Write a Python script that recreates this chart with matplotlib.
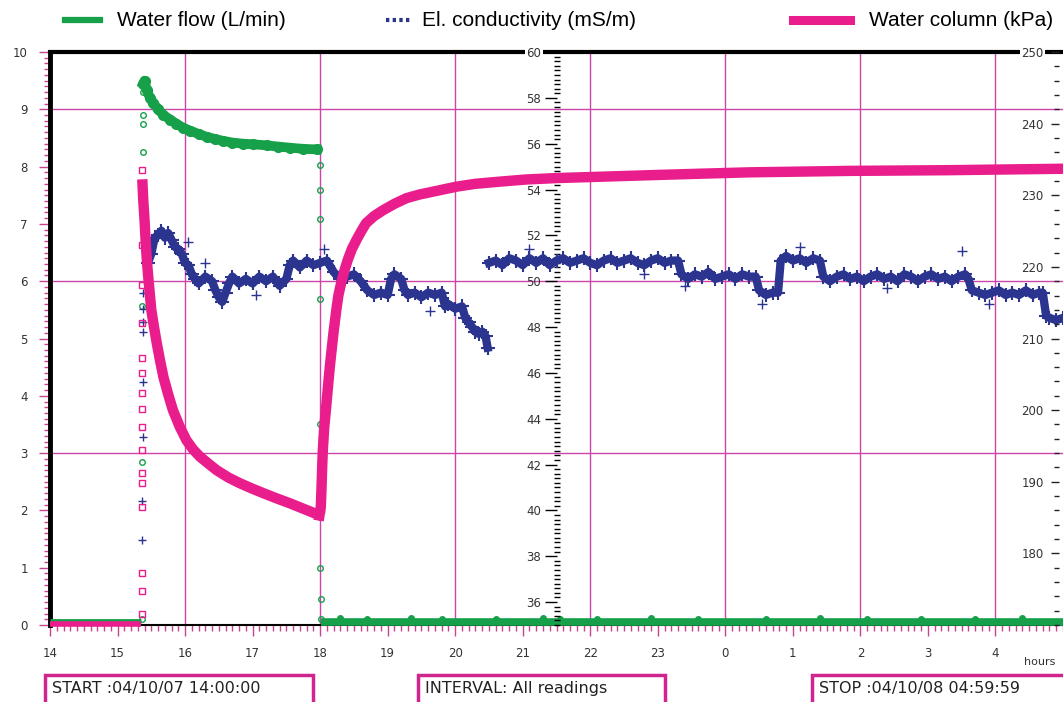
import numpy as np
import matplotlib
matplotlib.use("Agg")
import matplotlib.pyplot as plt
from matplotlib.ticker import MultipleLocator
from matplotlib.lines import Line2D
from matplotlib.patches import Rectangle

nan = np.nan

# --- water flow (L/min), left axis ---
flow_idle_time = [14.0, 14.5, 15.0, 15.35]
flow_idle = [0.07, 0.07, 0.07, 0.07]
flow_rise_time = [15.36, 15.36, 15.36, 15.37, 15.37, 15.37, 15.38]
flow_rise = [0.1, 2.85, 5.57, 8.25, 8.75, 8.9, 9.3]
flow_run_time = [15.38, 15.40, 15.43, 15.48, 15.53, 15.60, 15.68, 15.78, 15.87, 15.97, 16.07,
                 16.2, 16.32, 16.45, 16.56, 16.7, 16.86, 17.0, 17.21, 17.38, 17.55, 17.75, 17.95]
flow_run = [9.45, 9.5, 9.34, 9.2, 9.11, 9.0, 8.9, 8.82, 8.75, 8.68, 8.63,
            8.57, 8.52, 8.48, 8.45, 8.42, 8.4, 8.39, 8.37, 8.35, 8.33, 8.31, 8.3]
flow_stop_time = [18.0, 18.0, 18.0, 18.0, 18.0, 18.0, 18.01, 18.01]
flow_stop = [8.03, 7.6, 7.08, 5.69, 3.5, 1.0, 0.45, 0.1]
flow_rest_time = [18.02, 18.5, 19.0, 19.5, 20.0, 20.5, 21.0, 21.5, 22.0, 22.5, 23.0, 23.5, 24.0,
                  24.5, 25.0, 25.5, 26.0, 26.5, 27.0, 27.5, 28.0, 28.5, 29.0]
flow_rest = [0.06] * 23
flow_blip_time = [18.3, 18.7, 19.35, 19.8, 20.6, 21.3, 21.55, 22.1, 22.9, 23.6, 24.6, 25.4,
                  26.1, 26.9, 27.7, 28.4]
flow_blip = [0.12, 0.1, 0.12, 0.11, 0.1, 0.12, 0.11, 0.1, 0.12, 0.1, 0.11, 0.12, 0.1, 0.11, 0.1, 0.12]

# --- electrical conductivity (mS/m), middle axis ---
ec_rise_time = [15.36, 15.36, 15.37, 15.37, 15.37, 15.37, 15.38, 15.38]
ec_rise = [38.7, 40.4, 43.2, 45.6, 47.8, 48.2, 48.8, 49.5]
ec_time = [15.45, 15.5, 15.55, 15.6, 15.65, 15.7, 15.75, 15.8, 15.85, 15.9, 15.95, 16.0, 16.05,
           16.1, 16.15, 16.2, 16.3, 16.4, 16.45, 16.5, 16.55, 16.6, 16.65, 16.7, 16.8, 16.9,
           17.0, 17.1, 17.2, 17.3, 17.4, 17.5, 17.55, 17.6, 17.7, 17.8, 17.9, 18.0, 18.1,
           18.2, 18.3, 18.4, 18.5, 18.6, 18.7, 18.8, 18.9, 19.0, 19.05, 19.1, 19.2, 19.25,
           19.3, 19.4, 19.5, 19.6, 19.7, 19.8, 19.85, 19.9, 20.0, 20.1, 20.15, 20.2, 20.25,
           20.3, 20.35, 20.4, 20.45, 20.48, 20.49,
           20.5, 20.6, 20.7, 20.8, 20.9, 21.0, 21.1, 21.2, 21.3, 21.4, 21.5, 21.6, 21.7, 21.8,
           21.9, 22.0, 22.1, 22.2, 22.3, 22.4, 22.5, 22.6, 22.7, 22.8, 22.9, 23.0, 23.1, 23.2,
           23.3, 23.35, 23.45, 23.55, 23.65, 23.75, 23.85, 23.95, 24.05, 24.15, 24.25, 24.35,
           24.45, 24.5, 24.6, 24.7, 24.78, 24.82, 24.9, 25.0, 25.1, 25.2, 25.3, 25.4, 25.45,
           25.55, 25.65, 25.75, 25.85, 25.95, 26.05, 26.15, 26.25, 26.35, 26.45, 26.55, 26.65,
           26.75, 26.85, 26.95, 27.05, 27.15, 27.25, 27.35, 27.45, 27.55, 27.6, 27.65, 27.75,
           27.85, 27.95, 28.05, 28.15, 28.25, 28.35, 28.45, 28.55, 28.65, 28.7, 28.75, 28.8,
           28.9, 29.0]
ec_value = [50.8, 51.2, 51.9, 52.0, 52.2, 51.9, 52.1, 51.8, 51.5, 51.4, 51.2, 50.8, 50.7,
            50.3, 50.1, 49.9, 50.2, 50.0, 49.6, 49.3, 49.1, 49.5, 49.9, 50.2, 49.9, 50.1,
            49.9, 50.2, 50.0, 50.2, 49.8, 50.1, 50.7, 50.9, 50.6, 50.9, 50.7, 50.8, 50.9,
            50.4, 50.1, 50.2, 50.3, 50.0, 49.6, 49.4, 49.5, 49.4, 50.1, 50.3, 50.1, 49.6,
            49.4, 49.5, 49.3, 49.5, 49.4, 49.5, 48.9, 49.0, 48.8, 48.9, 48.4, 48.2, 48.0,
            47.8, 47.7, 47.8, 47.6, 47.1, nan,
            50.8, 50.9, 50.7, 51.0, 50.9, 50.7, 51.0, 50.8, 51.0, 50.7, 50.9, 51.0, 50.8, 50.9,
            51.0, 50.8, 50.7, 50.9, 51.0, 50.8, 50.9, 51.0, 50.8, 50.7, 50.9, 51.0, 50.8, 50.9,
            50.9, 50.3, 50.1, 50.3, 50.2, 50.4, 50.1, 50.2, 50.3, 50.1, 50.3, 50.2,
            50.2, 49.6, 49.4, 49.5, 49.5, 50.9, 51.1, 50.9, 51.0, 50.8, 51.0, 50.9, 50.2,
            50.0, 50.2, 50.3, 50.1, 50.2, 50.0, 50.2, 50.3, 50.1, 50.2, 50.0, 50.3,
            50.2, 50.0, 50.2, 50.3, 50.1, 50.2, 50.0, 50.2, 50.3, 50.1, 49.6, 49.5,
            49.4, 49.5, 49.6, 49.4, 49.5, 49.4, 49.6, 49.4, 49.5, 49.5, 48.5, 48.4,
            48.3, 48.4]
ec_stray_time = [16.3, 17.05, 18.05, 19.62, 16.05, 21.1, 22.8, 24.55, 25.1, 27.5, 27.9, 23.4, 26.4]
ec_stray = [50.8, 49.4, 51.4, 48.7, 51.7, 51.4, 50.3, 49.0, 51.5, 51.3, 49.0, 49.8, 49.7]

# --- water column (kPa), right axis ---
wc_idle_time = [14.0, 14.5, 15.0, 15.35]
wc_idle = [170.1, 170.1, 170.1, 170.1]
wc_rise_time = [15.36] * 17
wc_rise = [171.5, 174.7, 177.3, 186.5, 189.8, 191.2, 194.4, 197.6, 200.2, 202.4, 205.2,
           207.3, 212.2, 217.5, 223.0, 229.5, 233.5]
wc_run_time = [15.37, 15.38, 15.40, 15.41, 15.43, 15.45, 15.475, 15.50, 15.54, 15.58, 15.63,
               15.68, 15.75, 15.82, 15.92, 16.02, 16.12, 16.22, 16.35, 16.47, 16.64, 16.81,
               16.98, 17.16, 17.35, 17.55, 17.76, 17.97]
wc_run = [231.5, 229.5, 226.5, 224.7, 221.5, 219.1, 216.5, 214.0, 211.6, 209.4, 206.9,
          204.6, 202.2, 200.0, 197.7, 195.8, 194.5, 193.5, 192.5, 191.6, 190.6, 189.8,
          189.1, 188.4, 187.7, 187.0, 186.2, 185.4]
wc_stop_time = [18.02, 18.02, 18.02, 18.03, 18.03, 18.03, 18.04]
wc_stop = [186.0, 188.0, 190.0, 192.0, 194.0, 196.0, 198.0]
wc_rec_time = [17.99, 18.01, 18.02, 18.03, 18.04, 18.06, 18.09, 18.12, 18.145, 18.17, 18.2,
               18.24, 18.27, 18.31, 18.36, 18.41, 18.47, 18.54, 18.61, 18.68, 18.8, 18.93,
               19.1, 19.28, 19.47, 19.67, 20.02, 20.3, 20.66, 21.05, 21.5, 22.2, 22.88, 23.6,
               24.36, 25.1, 25.83, 27.31, 29.0]
wc_rec = [185.3, 186.5, 189.0, 192.0, 194.4, 197.5, 200.5, 203.7, 206.2, 208.4, 211.0,
          214.0, 216.0, 217.7, 219.5, 221.0, 222.5, 223.8, 225.0, 226.1, 227.1, 227.9,
          228.8, 229.6, 230.1, 230.5, 231.2, 231.6, 231.9, 232.2, 232.4, 232.6, 232.8, 233.0,
          233.2, 233.3, 233.4, 233.5, 233.7]

hour_ticks = list(range(14, 29))
hour_labels = ['14', '15', '16', '17', '18', '19', '20', '21', '22', '23', '0', '1', '2', '3', '4']
grid_hours = [16, 18, 20, 22, 24, 26, 28]
grid_flow = [3, 6, 9]

GREEN = '#17a04a'
NAVY = '#2b3590'
PINK = '#e91e8c'
GRIDC = '#cc44a8'
TICKC = '#c8448f'
LABC = '#333333'

W, H = 1063, 702
fig = plt.figure(figsize=(W / 100, H / 100), dpi=100)
ax = fig.add_axes([50 / W, 77 / H, 1013 / W, 573 / H])
ax.set_xlim(14, 29)
ax.set_ylim(0, 10)

for h in grid_hours:
    ax.axvline(h, color=GRIDC, lw=1, zorder=0.5)
for v in grid_flow:
    ax.axhline(v, color=GRIDC, lw=1, zorder=0.5)

# flow series
ax.plot(flow_idle_time, flow_idle, color=GREEN, lw=3.5, solid_capstyle='butt', clip_on=False, zorder=4)
ax.plot(flow_rise_time, flow_rise, 'o', mfc='none', mec=GREEN, ms=4, mew=1, zorder=4)
ax.plot(flow_run_time, flow_run, color=GREEN, lw=7, marker='o', ms=7, mfc=GREEN, mec=GREEN, zorder=4)
ax.plot(flow_stop_time, flow_stop, 'o', mfc='none', mec=GREEN, ms=4, mew=1, zorder=4)
ax.plot(flow_rest_time, flow_rest, color=GREEN, lw=5.5, solid_capstyle='butt', clip_on=False, zorder=4)
ax.plot(flow_blip_time, flow_blip, 'o', mfc=GREEN, mec=GREEN, ms=4, clip_on=False, zorder=4)

ax.set_xticks(hour_ticks)
ax.set_xticklabels(hour_labels)
ax.xaxis.set_minor_locator(MultipleLocator(0.1))
ax.set_yticks(range(0, 11))
ax.yaxis.set_minor_locator(MultipleLocator(0.1))
ax.tick_params(axis='both', which='major', length=8, width=1, color=TICKC, direction='out',
               labelsize=8.5, labelcolor=LABC)
ax.tick_params(axis='both', which='minor', length=4, width=1, color=TICKC, direction='out')
ax.tick_params(axis='x', pad=8)
ax.tick_params(axis='y', pad=8)
ax.spines['left'].set_linewidth(3.5)
ax.spines['top'].set_linewidth(3)
ax.spines['bottom'].set_linewidth(1.5)
ax.spines['right'].set_visible(False)
for s in ['left', 'top', 'bottom']:
    ax.spines[s].set_color('black')

# conductivity axis in the middle
ax_ec = ax.twinx()
ax_ec.set_ylim(35, 60)
ax_ec.plot(ec_time, ec_value, color=NAVY, lw=6, marker='+', ms=10, mew=1.5, zorder=3)
ax_ec.plot(ec_rise_time, ec_rise, '+', color=NAVY, ms=6, mew=1, zorder=3)
ax_ec.plot(ec_stray_time, ec_stray, '+', color=NAVY, ms=7, mew=1, zorder=3)
for s in ax_ec.spines.values():
    s.set_visible(False)
ax_ec.spines['left'].set_position(('axes', 0.5))
ax_ec.yaxis.set_ticks_position('left')
ax_ec.set_yticks(range(36, 61, 2))
ax_ec.yaxis.set_minor_locator(MultipleLocator(0.2))
ax_ec.tick_params(axis='y', which='major', length=9, width=1, color='black', direction='out',
                  labelsize=8.5, labelcolor=LABC, pad=2)
ax_ec.tick_params(axis='y', which='minor', length=4, width=1, color='black', direction='inout')

# water column axis on the right
ax_p = ax.twinx()
ax_p.set_ylim(170, 250)
ax_p.plot(wc_idle_time, wc_idle, color=PINK, lw=4, solid_capstyle='butt', clip_on=False, zorder=2)
ax_p.plot(wc_rise_time, wc_rise, 's', mfc='none', mec=PINK, ms=4.5, mew=1, zorder=2)
ax_p.plot(wc_run_time, wc_run, color=PINK, lw=7.5, zorder=2)
ax_p.plot(wc_stop_time, wc_stop, 's', mfc='none', mec=PINK, ms=4, mew=1, zorder=2)
ax_p.plot(wc_rec_time, wc_rec, color=PINK, lw=7.5, zorder=2)
for s in ax_p.spines.values():
    s.set_visible(False)
ax_p.spines['left'].set_position(('axes', 0.996))
ax_p.yaxis.set_ticks_position('left')
ax_p.set_yticks(range(180, 251, 10))
ax_p.yaxis.set_minor_locator(MultipleLocator(2))
ax_p.tick_params(axis='y', which='major', length=6, width=1, color='#222222', direction='out',
                 labelsize=8.5, labelcolor=LABC, pad=5)
ax_p.tick_params(axis='y', which='minor', length=3.5, width=1, color='#222222', direction='out')

# top labels of the two inner scales sit on the frame line
fig.canvas.draw()
for a in (ax_ec, ax_p):
    a.get_yticklabels()[-1].set_bbox(dict(facecolor='white', edgecolor='none', pad=1))

fig.text(1040 / W, 1 - 662 / H, 'hours', ha='center', va='center', fontsize=8, color=LABC)

# legend row
leg_font = ['Liberation Sans Narrow', 'Liberation Sans', 'DejaVu Sans']
ly = 1 - 20 / H
fig.add_artist(Line2D([65 / W, 100 / W], [ly, ly], transform=fig.transFigure, color=GREEN, lw=4.5))
fig.text(117 / W, ly, 'Water flow (L/min)', ha='left', va='center', fontsize=15, family=leg_font)
fig.add_artist(Line2D([386 / W, 412 / W], [ly, ly], transform=fig.transFigure, color=NAVY, lw=3,
                      linestyle=(0, (0.8, 0.8))))
fig.text(422 / W, ly, 'El. conductivity (mS/m)', ha='left', va='center', fontsize=15, family=leg_font)
fig.add_artist(Line2D([793 / W, 850 / W], [ly, ly], transform=fig.transFigure, color=PINK, lw=6.5))
fig.text(869 / W, ly, 'Water column (kPa)', ha='left', va='center', fontsize=15, family=leg_font)

# info boxes under the axis
boxes = [(45, 313, 'START :04/10/07 14:00:00'),
         (418, 665, 'INTERVAL: All readings'),
         (812, 1075, 'STOP :04/10/08 04:59:59')]
for x0, x1, txt in boxes:
    fig.add_artist(Rectangle((x0 / W, -10 / H), (x1 - x0) / W, 37 / H, transform=fig.transFigure,
                             fill=False, edgecolor='#d0258f', lw=2.5, clip_on=False))
    fig.text((x0 + 7) / W, 1 - 689 / H, txt, ha='left', va='center', fontsize=11.5, color='#222222')

fig.savefig('out.png', dpi=100)
